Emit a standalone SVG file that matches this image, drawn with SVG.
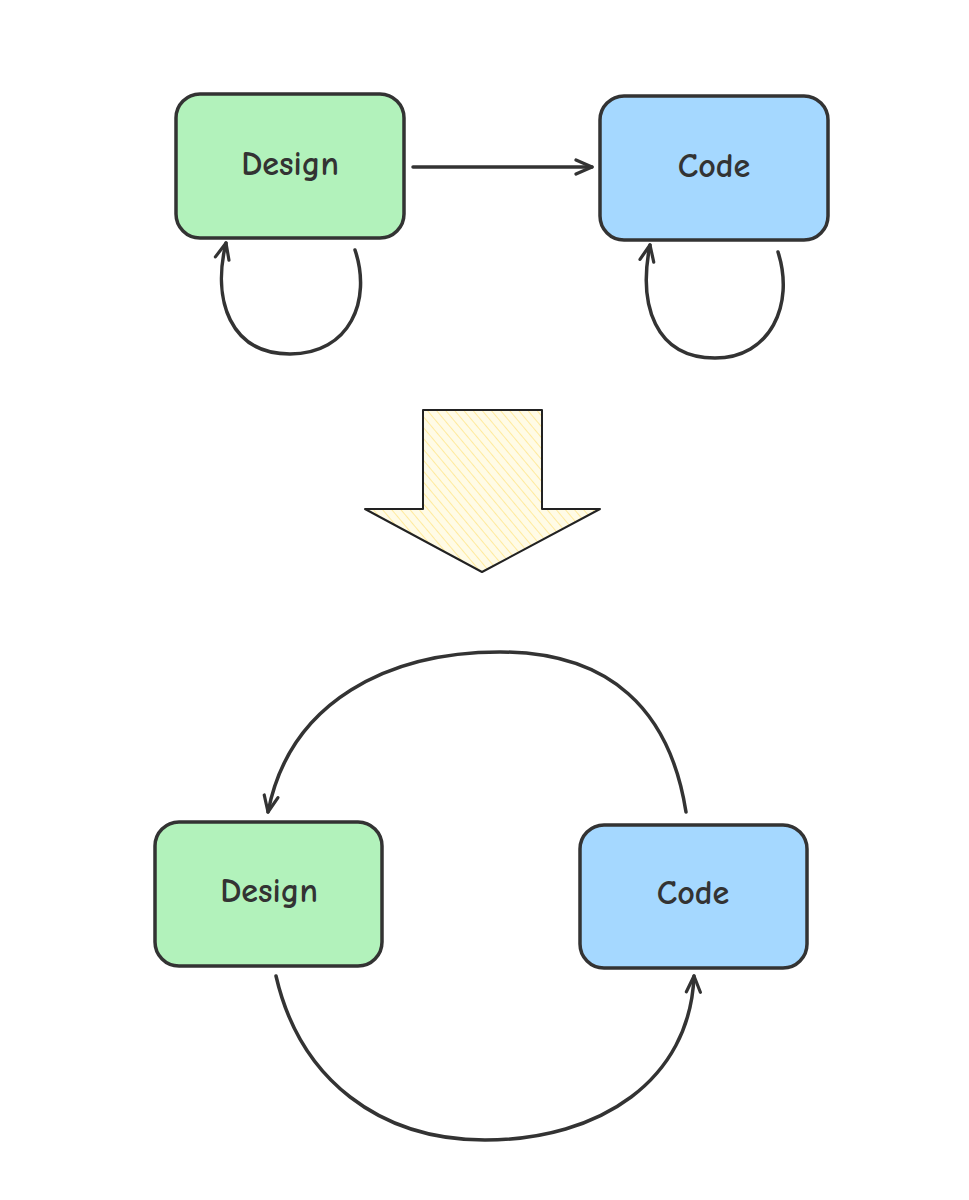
<svg xmlns="http://www.w3.org/2000/svg" width="969" height="1200" viewBox="0 0 969 1200">
<style>
.box{stroke:#333;stroke-width:3.5;}
.g{fill:#b2f2bb;}
.b{fill:#a5d8ff;}
.lbl{font-family:"Comic Neue","Liberation Sans",sans-serif;font-size:34px;font-weight:bold;fill:#333;text-anchor:middle;dominant-baseline:central;}
.conn{fill:none;stroke:#333;stroke-width:3.5;stroke-linecap:round;stroke-linejoin:round;}
</style>
<defs>
<pattern id="hatch" width="7" height="7" patternUnits="userSpaceOnUse" patternTransform="rotate(-40)">
<rect width="7" height="7" fill="#fffbe6"/>
<line x1="0" y1="0" x2="0" y2="7" stroke="#ffe68a" stroke-width="1.6"/>
</pattern>
<marker id="ah" viewBox="0 0 20 20" refX="18" refY="10" markerWidth="20" markerHeight="20" markerUnits="userSpaceOnUse" orient="auto">
<path d="M2,3 L18,10 L2,17" fill="none" stroke="#333" stroke-width="3.2" stroke-linecap="round" stroke-linejoin="round"/>
</marker>
</defs>
<rect width="969" height="1200" fill="#fff"/>
<g id="connectors">
<path class="conn" d="M413,167 L592,167" marker-end="url(#ah)"/>
<path class="conn" d="M355,250 C372,300 350,354 290,354 C230,354 212,300 226,243" marker-end="url(#ah)"/>
<path class="conn" d="M778,252 C795,305 770,358 715,358 C655,358 638,305 650,245" marker-end="url(#ah)"/>
<path class="conn" d="M686,812 C670,710 610,652 500,652 C390,652 290,700 268,812" marker-end="url(#ah)"/>
<path class="conn" d="M276,976 C300,1080 380,1140 485,1140 C600,1140 690,1080 694,976" marker-end="url(#ah)"/>
</g>
<g id="transform-arrow">
<path d="M423,410 L542,410 L542,509 L600,509 L482,572 L365,509 L423,509 Z" fill="url(#hatch)" stroke="#222" stroke-width="2" stroke-linejoin="round"/>
</g>
<g id="design-top">
<rect class="box g" x="176" y="94" width="228" height="144" rx="24"/>
<text class="lbl" x="290" y="164">Design</text>
</g>
<g id="code-top">
<rect class="box b" x="600" y="96" width="228" height="144" rx="24"/>
<text class="lbl" x="714" y="166">Code</text>
</g>
<g id="design-bottom">
<rect class="box g" x="155" y="822" width="227" height="144" rx="24"/>
<text class="lbl" x="269" y="891">Design</text>
</g>
<g id="code-bottom">
<rect class="box b" x="580" y="825" width="227" height="143" rx="24"/>
<text class="lbl" x="693" y="893">Code</text>
</g>
</svg>
